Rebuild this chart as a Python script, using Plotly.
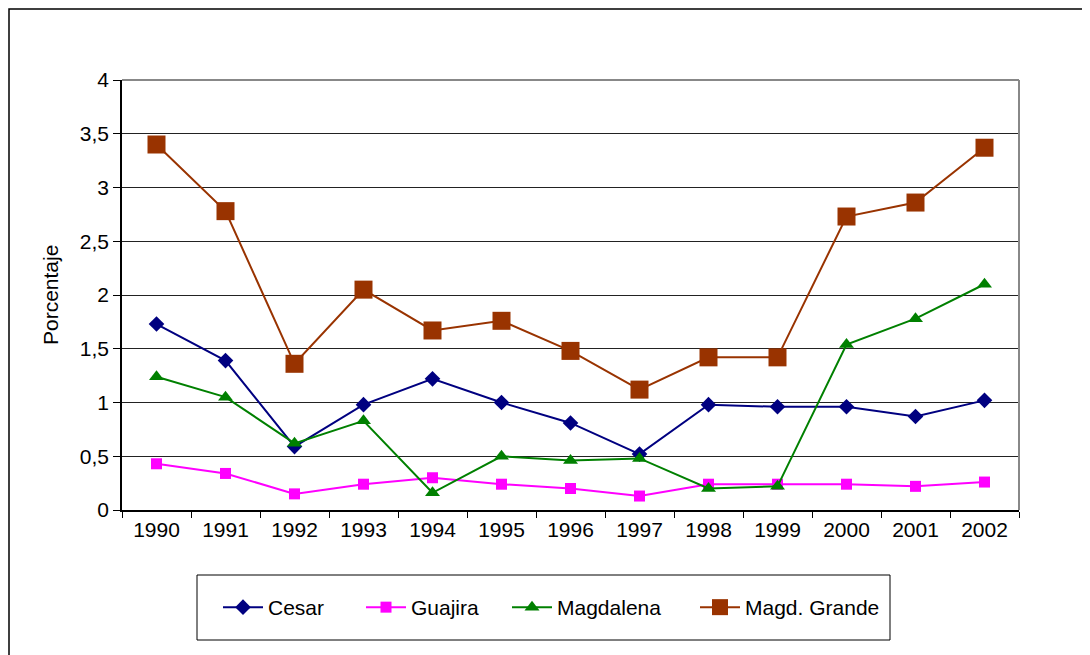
import plotly.graph_objects as go

years = ["1990", "1991", "1992", "1993", "1994", "1995", "1996",
         "1997", "1998", "1999", "2000", "2001", "2002"]
cesar = [1.73, 1.39, 0.59, 0.98, 1.22, 1.00, 0.81, 0.52, 0.98, 0.96, 0.96, 0.87, 1.02]
guajira = [0.43, 0.34, 0.15, 0.24, 0.30, 0.24, 0.20, 0.13, 0.24, 0.24, 0.24, 0.22, 0.26]
magdalena = [1.24, 1.05, 0.62, 0.83, 0.16, 0.50, 0.46, 0.48, 0.20, 0.22, 1.54, 1.78, 2.10]
magd_grande = [3.40, 2.78, 1.36, 2.05, 1.67, 1.76, 1.48, 1.12, 1.42, 1.42, 2.73, 2.86, 3.37]

FONT = "Liberation Sans, Arial, sans-serif"
FS = 21

# target screen positions of the plot area (page has an 8px body margin)
OFF = 8
W, H = 1090, 655
L, R, T, B = 122, 1019, 80, 510
pw, ph = R - L, B - T

def px_x(p):
    return (p - L) / pw

def px_y(p):
    return (B - p) / ph

fig = go.Figure()
series = [
    ("Cesar", cesar, "#000080", "diamond", 12, "legend", 268),
    ("Guajira", guajira, "#FF00FF", "square", 11, "legend2", 411),
    ("Magdalena", magdalena, "#008000", "triangle-up", 13, "legend3", 557),
    ("Magd. Grande", magd_grande, "#993300", "square", 18, "legend4", 745),
]
legend_defs = {}
for name, vals, col, sym, sz, lg, text_x in series:
    fig.add_trace(go.Scatter(
        x=years, y=vals, name=name, mode="lines+markers",
        line=dict(color=col, width=2),
        marker=dict(symbol=sym, size=sz, color=col, line=dict(width=0)),
        legend=lg,
    ))
    legend_defs[lg] = dict(
        orientation="h", x=px_x(text_x - 50), xanchor="left",
        y=px_y(587), yanchor="top",
        borderwidth=0, bgcolor="rgba(0,0,0,0)",
        font=dict(family=FONT, size=FS, color="black"),
        itemwidth=40,
    )

fig.update_layout(
    width=W, height=H,
    margin=dict(l=L - OFF, r=W - (R - OFF), t=T - OFF, b=H - (B - OFF)),
    paper_bgcolor="white", plot_bgcolor="white",
    separators=",.",
    font=dict(family=FONT, size=FS, color="black"),
    showlegend=True,
    **legend_defs,
    xaxis=dict(
        type="category", range=[-0.5, 12.5],
        showline=True, linecolor="black", linewidth=1.5,
        ticks="outside", tickson="boundaries", ticklen=6, tickcolor="black",
        showgrid=False, zeroline=False,
        tickfont=dict(family=FONT, size=FS, color="black"),
        fixedrange=True,
    ),
    yaxis=dict(
        range=[0, 4], dtick=0.5, tick0=0,
        showline=True, linecolor="black", linewidth=1.5,
        ticks="outside", ticklen=7, tickcolor="black",
        showgrid=True, gridcolor="#222222", gridwidth=1,
        zeroline=False,
        tickfont=dict(family=FONT, size=FS, color="black"),
        fixedrange=True,
    ),
    shapes=[
        # plot area top/right border (gray)
        dict(type="line", xref="paper", yref="paper", x0=0, x1=1, y0=1, y1=1,
             line=dict(color="#888888", width=2)),
        dict(type="line", xref="paper", yref="paper", x0=1, x1=1, y0=0, y1=1,
             line=dict(color="#888888", width=2)),
        # outer chart border
        dict(type="rect", xref="paper", yref="paper",
             x0=px_x(9), x1=px_x(1110), y0=px_y(680), y1=px_y(9),
             line=dict(color="black", width=1.5), fillcolor="rgba(0,0,0,0)",
             layer="below"),
        # legend box
        dict(type="rect", xref="paper", yref="paper",
             x0=px_x(197), x1=px_x(890), y0=px_y(640), y1=px_y(575),
             line=dict(color="black", width=1), fillcolor="rgba(0,0,0,0)",
             layer="below"),
    ],
    annotations=[
        dict(text="Porcentaje", xref="paper", yref="paper",
             x=px_x(50), y=0.5, textangle=-90, showarrow=False,
             font=dict(family=FONT, size=FS, color="black"),
             xanchor="center", yanchor="middle"),
    ],
)

fig.write_html("out.html")
